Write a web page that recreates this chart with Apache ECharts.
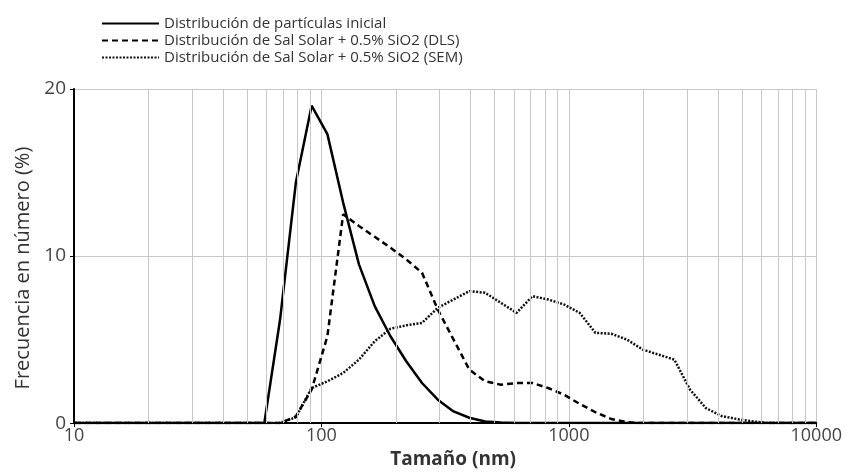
<!DOCTYPE html>
<html>
<head>
<meta charset="utf-8">
<script src="https://cdn.jsdelivr.net/npm/echarts@6/dist/echarts.min.js"></script>
<style>
  html, body { margin: 0; padding: 0; background: #fff; }
  #chart { width: 845px; height: 474px; }
</style>
</head>
<body>
<div id="chart"></div>
<script>
// tamaños de partícula (nm), bins del equipo
const sizes = [10.10, 11.70, 13.54, 15.69, 18.17, 21.04, 24.36, 28.21, 32.67, 37.84, 43.82, 50.75,
  58.77, 68.06, 78.82, 91.28, 105.7, 122.4, 141.8, 164.2, 190.1, 220.2, 255.0, 295.3, 342.0, 396.1,
  458.7, 531.2, 615.1, 712.4, 825.0, 955.4, 1106, 1281, 1484, 1718, 1990, 2305, 2669, 3091, 3580,
  4145, 4801, 5560, 6439, 7456, 8635, 10000]

const inicial = [0, 0, 0, 0, 0, 0, 0, 0, 0, 0, 0, 0,
  0, 6.2, 14.4, 19.0, 17.3, 13.2, 9.5, 7.0, 5.2, 3.7, 2.4, 1.4, 0.7, 0.32,
  0.1, 0.03, 0, 0, 0, 0, 0, 0, 0, 0, 0, 0, 0, 0, 0,
  0, 0, 0, 0, 0, 0, 0]

const dls = [0, 0, 0, 0, 0, 0, 0, 0, 0, 0, 0, 0,
  0, 0, 0.4, 2.0, 5.2, 12.5, 11.8, 11.15, 10.5, 9.8, 9.0, 6.8, 5.0, 3.2,
  2.5, 2.3, 2.4, 2.4, 2.1, 1.7, 1.15, 0.65, 0.25, 0.05, 0, 0, 0, 0, 0,
  0, 0, 0, 0, 0, 0, 0]

const sem = [0, 0, 0, 0, 0, 0, 0, 0, 0, 0, 0, 0,
  0, 0, 0.35, 2.1, 2.5, 3.0, 3.8, 4.9, 5.65, 5.85, 6.0, 6.9, 7.4, 7.9,
  7.8, 7.2, 6.6, 7.6, 7.4, 7.1, 6.6, 5.4, 5.35, 5.0, 4.4, 4.1, 3.8, 2.0, 0.9,
  0.42, 0.24, 0.1, 0, 0, 0, 0]

// lineas secundarias de la rejilla logaritmica
const minorGrid = [20, 30, 40, 50, 60, 70, 80, 90, 200, 300, 400, 500, 600, 700, 800, 900,
  2000, 3000, 4000, 5000, 6000, 7000, 8000, 9000]

const names = [
  'Distribución de partículas inicial',
  'Distribución de Sal Solar + 0.5% SiO2 (DLS)',
  'Distribución de Sal Solar + 0.5% SiO2 (SEM)'
]

const pairs = (vals) => sizes.map((s, i) => [s, vals[i]])

let myChart = echarts.init(document.getElementById('chart'))
const font = '"Open Sans", "DejaVu Sans", sans-serif'
const gridColor = '#c8c8c8'

let option = {
  animation: false,
  textStyle: { fontFamily: font },
  legend: {
    data: names,
    orient: 'vertical',
    left: 96,
    top: 11,
    itemWidth: 57,
    itemHeight: 12,
    itemGap: 2,
    itemStyle: { opacity: 0, borderWidth: 0 },
    textStyle: { fontSize: 15, color: '#333', fontFamily: font }
  },
  grid: {
    left: 74,
    right: 28,
    top: 89,
    bottom: 44
  },
  xAxis: {
    type: 'log',
    logBase: 10,
    min: 10,
    max: 10000,
    name: 'Tamaño (nm)',
    nameLocation: 'middle',
    nameGap: 20,
    nameTextStyle: { fontSize: 19, fontWeight: 'bold', color: '#333', fontFamily: font, padding: [0, 0, 0, 16] },
    axisLine: { lineStyle: { color: '#000', width: 2 } },
    axisTick: { show: true, length: 4, lineStyle: { color: '#000' } },
    axisLabel: { fontSize: 18, color: '#444', margin: 4, formatter: v => String(v) },
    splitLine: { show: true, lineStyle: { color: gridColor, width: 1 } }
  },
  yAxis: {
    type: 'value',
    min: 0,
    max: 20,
    interval: 10,
    name: 'Frecuencia en número (%)',
    nameLocation: 'middle',
    nameGap: 40,
    nameTextStyle: { fontSize: 20, color: '#333', fontFamily: font, padding: [0, 24, 0, 0] },
    axisLine: { show: true, lineStyle: { color: '#000', width: 2 } },
    axisTick: { show: true, length: 4, lineStyle: { color: '#000' } },
    axisLabel: { fontSize: 19, color: '#444', margin: 8 },
    splitLine: { show: true, lineStyle: { color: gridColor, width: 1 } }
  },
  series: [
    {
      type: 'line',
      data: [],
      z: 1,
      silent: true,
      markLine: {
        silent: true,
        symbol: ['none', 'none'],
        label: { show: false },
        lineStyle: { color: gridColor, type: 'solid', width: 1 },
        data: minorGrid.map(v => ({ xAxis: v }))
      }
    },
    {
      name: names[0],
      type: 'line',
      z: 4,
      symbol: 'none',
      lineStyle: { color: '#000', width: 2.5, type: 'solid' },
      itemStyle: { color: '#000' },
      data: pairs(inicial)
    },
    {
      name: names[1],
      type: 'line',
      z: 3,
      symbol: 'none',
      lineStyle: { color: '#000', width: 2.5, type: [6, 4] },
      itemStyle: { color: '#000' },
      data: pairs(dls)
    },
    {
      name: names[2],
      type: 'line',
      z: 2,
      symbol: 'none',
      lineStyle: { color: '#111', width: 2.5, type: [2, 1.5] },
      itemStyle: { color: '#111' },
      data: pairs(sem)
    }
  ]
}
myChart.setOption(option)
</script>
</body>
</html>
